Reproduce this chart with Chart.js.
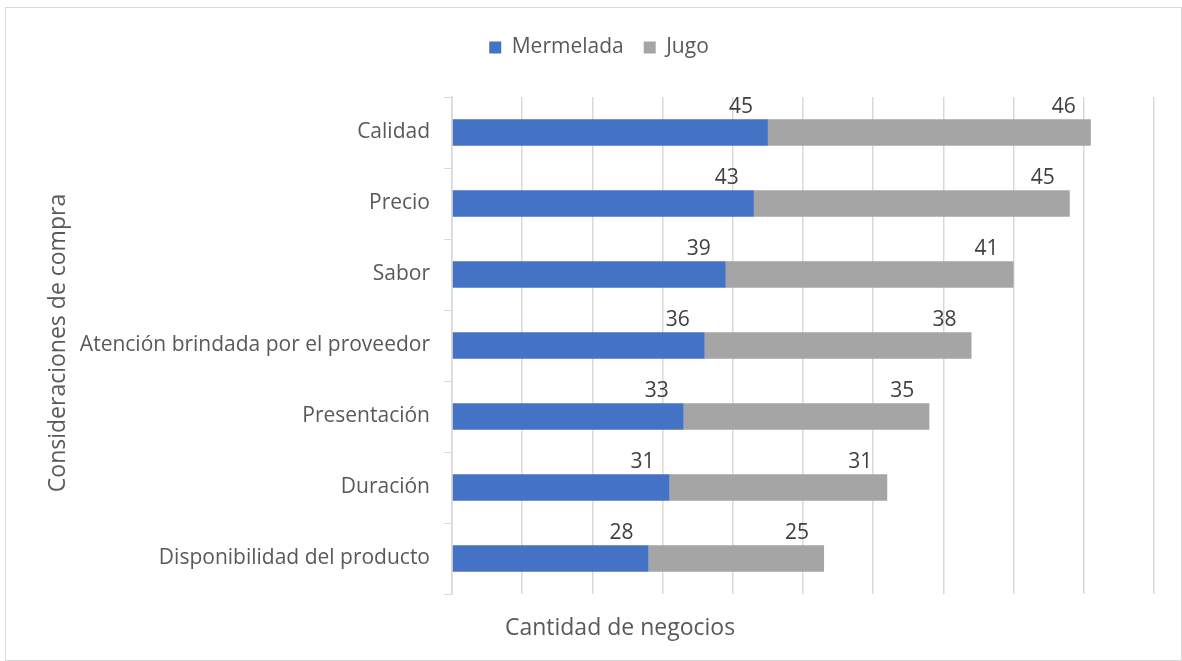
<!DOCTYPE html>
<html>
<head>
<meta charset="utf-8">
<script src="https://cdn.jsdelivr.net/npm/chart.js@4"></script>
<style>
  body { margin: 0; background: #fff; }
  #frame { position: absolute; left: 5px; top: 7px; width: 1175px; height: 652px; border: 1px solid #d9d9d9; }
  #wrap { position: absolute; left: 0; top: 0; width: 1182px; height: 661px; }
</style>
</head>
<body>
<div id="frame"></div>
<div id="wrap"><canvas id="chart"></canvas></div>
<script>
const categories = ['Calidad', 'Precio', 'Sabor', 'Atención brindada por el proveedor', 'Presentación', 'Duración', 'Disponibilidad del producto'];
const mermelada = [45, 43, 39, 36, 33, 31, 28];
const jugo = [46, 45, 41, 38, 35, 31, 25];
const xTicks = [0, 10, 20, 30, 40, 50, 60, 70, 80, 90, 100];

const FONT = '"Open Sans", "DejaVu Sans", sans-serif';

// labels sit just above each segment, right-aligned near its end
const segmentLabels = {
    id: 'segmentLabels',
    afterDatasetsDraw(chart) {
        const ctx = chart.ctx;
        ctx.save();
        ctx.font = '21px ' + FONT;
        ctx.fillStyle = '#404040';
        ctx.textAlign = 'right';
        ctx.textBaseline = 'alphabetic';
        chart.data.datasets.forEach((ds, i) => {
            chart.getDatasetMeta(i).data.forEach((bar, j) => {
                const top = bar.y - bar.height / 2;
                ctx.fillText(String(ds.data[j]), bar.x - 15, top - 6);
            });
        });
        ctx.restore();
    }
};

const axisTitles = {
    id: 'axisTitles',
    afterDraw(chart) {
        const ctx = chart.ctx;
        ctx.save();
        ctx.font = '23px ' + FONT;
        ctx.fillStyle = '#595959';
        ctx.textAlign = 'center';
        ctx.textBaseline = 'middle';
        ctx.fillText('Cantidad de negocios', 620, 628);
        ctx.translate(58, 343);
        ctx.rotate(-Math.PI / 2);
        ctx.fillText('Consideraciones de compra', 0, 0);
        ctx.restore();
    }
};

// extra room between legend and plot, and nudge the legend right
const legendTweak = {
    id: 'legendTweak',
    beforeInit(chart) {
        const legend = chart.legend;
        const fit = legend.fit;
        legend.fit = function () {
            fit.call(this);
            this.height += 29;
        };
        const draw = legend.draw;
        legend.draw = function () {
            chart.ctx.save();
            chart.ctx.translate(22, 0);
            draw.call(this);
            chart.ctx.restore();
        };
    }
};

new Chart(document.getElementById('chart'), {
    type: 'bar',
    data: {
        labels: categories,
        datasets: [
            { label: 'Mermelada', data: mermelada, backgroundColor: '#4472C4', barPercentage: 0.37, categoryPercentage: 1 },
            { label: 'Jugo', data: jugo, backgroundColor: '#A5A5A5', barPercentage: 0.37, categoryPercentage: 1 }
        ]
    },
    options: {
        indexAxis: 'y',
        responsive: true,
        maintainAspectRatio: false,
        animation: false,
        layout: { padding: { top: 17, right: 28, left: 0, bottom: 67 } },
        scales: {
            x: {
                stacked: true,
                min: xTicks[0],
                max: xTicks[xTicks.length - 1],
                afterBuildTicks: (scale) => { scale.ticks = xTicks.map(v => ({ value: v })); },
                ticks: { display: false },
                grid: { color: '#d9d9d9', lineWidth: 1.5, drawTicks: false },
                border: { display: false }
            },
            y: {
                stacked: true,
                afterFit: (scale) => { scale.width = 452; },
                ticks: { color: '#595959', font: { family: FONT, size: 21 }, padding: 14 },
                grid: { offset: true, drawOnChartArea: false, drawTicks: true, tickLength: 8, color: '#d9d9d9' },
                border: { display: true, color: '#d9d9d9', width: 1.5 }
            }
        },
        plugins: {
            legend: {
                position: 'top',
                labels: { color: '#595959', font: { family: FONT, size: 21 }, boxWidth: 12, boxHeight: 12, padding: 20 }
            },
            tooltip: { enabled: false }
        }
    },
    plugins: [segmentLabels, axisTitles, legendTweak]
});
</script>
</body>
</html>
